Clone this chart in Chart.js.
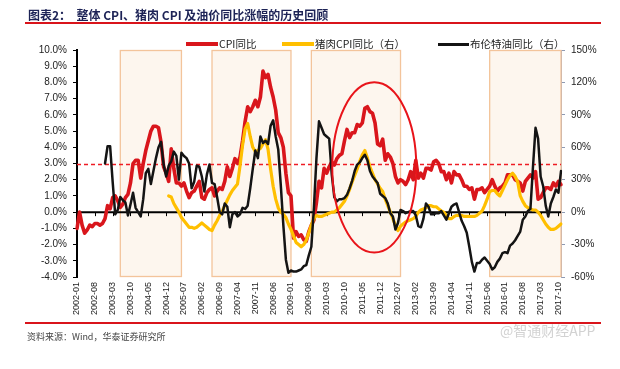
<!DOCTYPE html>
<html>
<head>
<meta charset="utf-8">
<script src="https://cdn.jsdelivr.net/npm/chart.js@4.4.1/dist/chart.umd.min.js"></script>
<style>
  body { margin: 0; background: #fff; }
  #wrap { position: relative; width: 620px; height: 369px; overflow: hidden; }
  #chart { position: absolute; left: 0; top: 0; }
  .title { position: absolute; left: 28px; top: 6px; font: bold 12px "Noto Sans CJK SC", sans-serif; color: #1d2356; white-space: nowrap; }
  .rule { position: absolute; left: 25px; width: 576px; background: #d9141b; }
  .source { position: absolute; left: 27px; top: 330px; font: 9px "Noto Sans CJK SC", sans-serif; color: #444; white-space: nowrap; }
  .mark { position: absolute; left: 500px; top: 320px; font: 14px "Noto Sans CJK SC", sans-serif; color: rgba(195,195,195,0.75); white-space: nowrap; }
  .lg-line { position: absolute; }
  .lg-text { position: absolute; top: 36px; font: 10.5px "Noto Sans CJK SC", sans-serif; color: #222; white-space: nowrap; line-height: 16px; }
</style>
</head>
<body>
<div id="wrap">
  <canvas id="chart" width="620" height="369"></canvas>
  <div class="title">图表2：&nbsp;&nbsp;整体 CPI、猪肉 CPI 及油价同比涨幅的历史回顾</div>
  <div class="rule" style="top:22px;height:2px;"></div>
  <div class="rule" style="top:322px;height:2px;"></div>
  <div class="source">资料来源：Wind，华泰证券研究所</div>
  <div class="mark">@智通财经APP</div>
  <div id="legend"></div>
</div>

<script>
//   <------------ Data ------------->

// months 2002-01 ... 2017-11
const months = [];
for (let yr = 2002; yr <= 2017; yr++) {
  for (let m = 1; m <= 12; m++) {
    if (yr === 2017 && m > 11) break;
    months.push(yr + '-' + (m < 10 ? '0' + m : m));
  }
}

// CPI YoY, % (left axis)
const cpi = [
  -1.0, 0.0, -0.8, -1.3, -1.1, -0.8, -0.9, -0.7, -0.7, -0.8, -0.7, -0.4,
  0.4, 0.2, 0.9, 1.0, 0.7, 0.3, 0.5, 0.9, 1.1, 1.8, 3.0, 3.2,
  3.2, 2.1, 3.0, 3.8, 4.4, 5.0, 5.3, 5.3, 5.2, 4.3, 2.8, 2.4,
  1.9, 3.9, 2.7, 1.8, 1.8, 1.6, 1.8, 1.3, 0.9, 1.2, 1.3, 1.6,
  1.9, 0.9, 0.8, 1.2, 1.4, 1.5, 1.0, 1.3, 1.5, 1.4, 1.9, 2.8,
  2.2, 2.7, 3.3, 3.0, 3.4, 4.4, 5.6, 6.5, 6.2, 6.5, 6.9, 6.5,
  7.1, 8.7, 8.3, 8.5, 7.7, 7.1, 6.3, 4.9, 4.6, 4.0, 2.4, 1.2,
  1.0, -1.6, -1.2, -1.5, -1.4, -1.7, -1.8, -1.2, -0.8, -0.5, 0.6, 1.9,
  1.5, 2.7, 2.4, 2.8, 3.1, 2.9, 3.3, 3.5, 3.6, 4.4, 5.1, 4.6,
  4.9, 4.9, 5.4, 5.3, 5.5, 6.4, 6.5, 6.2, 6.1, 5.5, 4.2, 4.1,
  4.5, 3.2, 3.6, 3.4, 3.0, 2.2, 1.8, 2.0, 1.9, 1.7, 2.0, 2.5,
  2.0, 3.2, 2.1, 2.4, 2.1, 2.7, 2.7, 2.6, 3.1, 3.2, 3.0, 2.5,
  2.5, 2.0, 2.4, 1.8, 2.5, 2.3, 2.3, 2.0, 1.6, 1.6, 1.4, 1.5,
  0.8, 1.4, 1.4, 1.5, 1.2, 1.4, 1.6, 2.0, 1.6, 1.3, 1.5, 1.6,
  1.8, 2.3, 2.3, 2.3, 2.0, 1.9, 1.8, 1.3, 1.9, 2.1, 2.3, 2.1,
  2.5, 0.8, 0.9, 1.2, 1.5, 1.5, 1.4, 1.8, 1.6, 1.9, 1.7
];

// pork CPI YoY, % (right axis), from 2005-01
const pork = Array(36).fill(null).concat([
  15, 14, 8, 4, 0, -5, -8, -11, -14, -14, -15, -14,
  -12, -10, -12, -14, -16, -17, -12, -8, -3, 1, 6, 11,
  16, 20, 23, 26, 43, 62, 77, 82, 70, 60, 56, 57,
  59, 63, 67, 58, 40, 24, 12, 4, 0, -2, -5, -11,
  -16, -22, -28, -30, -32, -30, -26, -19, -12, -6, -3, -4,
  -4, -3, -2, -1, 0, 0, 2, 4, 7, 10, 15, 21,
  28, 34, 40, 47, 53, 57, 50, 42, 36, 30, 26, 22,
  19, 12, 6, 0, -6, -12, -17, -13, -11, -9, -8, -7,
  -6, -4, 0, 2, 3, 4, 6, 6, 5, 5, 3, 1,
  0, -3, -6, -6, -4, -3, -3, -3, -4, -4, -4, -4,
  -4, -3, -1, 1, 6, 12, 19, 20, 20, 17, 15, 20,
  25, 30, 34, 36, 33, 28, 15, 10, 6, 4, 3, 2,
  2, 0, -3, -7, -11, -14, -16, -16, -15, -13, -11
]);

// Brent oil YoY, % (right axis), from 2002-12
const brent = Array(11).fill(null).concat([
  45,
  61, 61, 28, -2, 2, 14, 11, 9, -3, 7, 18, 4,
  0, -4, 12, 36, 40, 26, 38, 50, 60, 65, 44, 33,
  43, 47, 56, 52, 30, 55, 52, 50, 45, 22, 28, 43,
  42, 33, 19, 35, 44, 27, 26, 14, 0, -2, 8, 5,
  -14, -2, 0, -4, -2, 4, 3, 6, 22, 40, 57, 50,
  70, 64, 66, 63, 80, 85, 70, 58, 25, -12, -44, -56,
  -54, -55, -55, -54, -53, -50, -49, -40, -32, 4, 50, 84,
  78, 72, 70, 68, 35, 14, 10, 12, 12, 13, 16, 22,
  29, 38, 44, 46, 50, 53, 48, 38, 33, 30, 27, 17,
  15, 13, 8, -1, -4, -16, -10, 2, 1, -1, 0, 1,
  1, -3, -13, -14, -6, 8, 5, -2, -2, -1, -1, 1,
  -3, -7, -1, 5, 7, 8, 0, -8, -13, -19, -32, -46,
  -55, -47, -47, -44, -42, -45, -48, -53, -51, -46, -43, -38,
  -37, -38, -31, -29, -26, -22, -18, -7, -4, 1, 3, 42,
  78, 68, 33, 24, 6, -4, 8, 14, 21, 18, 38
]);

const seriesNames = ['CPI同比', '猪肉CPI同比（右）', '布伦特油同比（右）'];
const seriesColors = ['#d9161c', '#ffbf00', '#141414'];

const leftTicks = [-4, 10, 1];     // min, max, step (%)
const rightTicks = [-60, 150, 30];

// shaded periods
const periods = [
  ['2003-06', '2005-06'],
  ['2006-06', '2009-01'],
  ['2009-09', '2012-08'],
  ['2015-07', '2017-11']
];


//   <------------ Legend ------------->

const legendPos = [[186, 219], [282, 315], [438, 470]];
const legendBox = document.getElementById('legend');
seriesNames.forEach((name, i) => {
  const ln = document.createElement('div');
  ln.className = 'lg-line';
  ln.style.left = legendPos[i][0] + 'px';
  ln.style.width = (legendPos[i][1] - legendPos[i][0] - 1) + 'px';
  ln.style.top = (i === 2 ? 43 : 42) + 'px';
  ln.style.height = (i === 2 ? 3 : 4) + 'px';
  ln.style.background = seriesColors[i];
  legendBox.appendChild(ln);
  const tx = document.createElement('div');
  tx.className = 'lg-text';
  tx.style.left = legendPos[i][1] + 'px';
  tx.textContent = name;
  legendBox.appendChild(tx);
});


//   <------------ Overlay: periods, 3% line, zero axis, ellipse ------------->

const overlay = {
  id: 'overlay',
  beforeDatasetsDraw(chart) {
    const { ctx, chartArea: a, scales } = chart;
    const x = scales.x, y = scales.y;
    ctx.save();

    periods.forEach(p => {
      const x0 = x.getPixelForValue(months.indexOf(p[0]));
      const x1 = x.getPixelForValue(months.indexOf(p[1]));
      ctx.fillStyle = 'rgba(252,238,224,0.55)';
      ctx.fillRect(x0, a.top, x1 - x0, a.bottom - a.top);
      ctx.strokeStyle = '#f3c49b';
      ctx.lineWidth = 1.3;
      ctx.strokeRect(x0, a.top + 0.5, x1 - x0, a.bottom - a.top - 1);
    });

    const y3 = Math.round(y.getPixelForValue(3)) + 0.5;
    ctx.strokeStyle = '#ee1c24';
    ctx.lineWidth = 1.4;
    ctx.setLineDash([4, 3]);
    ctx.beginPath();
    ctx.moveTo(a.left, y3);
    ctx.lineTo(a.right, y3);
    ctx.stroke();

    const y0 = y.getPixelForValue(0);
    ctx.setLineDash([]);
    ctx.strokeStyle = '#000';
    ctx.lineWidth = 2;
    ctx.beginPath();
    ctx.moveTo(a.left, y0);
    ctx.lineTo(a.right, y0);
    ctx.stroke();
    ctx.lineWidth = 1;
    for (let i = 0; i < months.length; i += 7) {
      const px = Math.round(x.getPixelForValue(i)) + 0.5;
      ctx.beginPath();
      ctx.moveTo(px, y0);
      ctx.lineTo(px, y0 + 4);
      ctx.stroke();
    }
    ctx.restore();
  },
  afterDatasetsDraw(chart) {
    const { ctx, scales } = chart;
    const x = scales.x, y = scales.y;
    const cx = x.getPixelForValue(116.7);
    const cy = y.getPixelForValue(2.76);
    const rx = x.getPixelForValue(116.7 + 16.5) - cx;
    const ry = cy - y.getPixelForValue(2.76 + 5.25);
    ctx.save();
    ctx.strokeStyle = '#e8141a';
    ctx.lineWidth = 2;
    ctx.beginPath();
    ctx.ellipse(cx, cy, rx, ry, 0, 0, Math.PI * 2);
    ctx.stroke();
    ctx.restore();
  }
};


//   <------------ Chart ------------->

const tickFont = { family: '"Liberation Sans", Arial, sans-serif', size: 10 };

const config = {
  type: 'line',
  data: {
    labels: months,
    datasets: [
      { label: seriesNames[0], data: cpi, yAxisID: 'y', borderColor: seriesColors[0], borderWidth: 3.6, order: 3 },
      { label: seriesNames[1], data: pork, yAxisID: 'y1', borderColor: seriesColors[1], borderWidth: 3.2, order: 2 },
      { label: seriesNames[2], data: brent, yAxisID: 'y1', borderColor: seriesColors[2], borderWidth: 2.5, order: 1 }
    ]
  },
  options: {
    responsive: false,
    animation: false,
    devicePixelRatio: 1,
    layout: { padding: { left: 20, right: 19, top: 50, bottom: 42 } },
    elements: {
      point: { radius: 0 },
      line: { tension: 0, borderJoinStyle: 'round', borderCapStyle: 'round' }
    },
    plugins: { legend: { display: false }, tooltip: { enabled: false } },
    scales: {
      x: {
        grid: { display: false, drawTicks: false },
        border: { display: false },
        ticks: {
          autoSkip: false,
          maxRotation: 90,
          minRotation: 90,
          padding: 5,
          color: '#222',
          font: { family: '"Liberation Sans", Arial, sans-serif', size: 9 },
          callback: (v, i) => (i % 7 === 0 ? months[i] : '')
        },
        afterFit: s => { s.height = 50; }
      },
      y: {
        position: 'left',
        min: leftTicks[0],
        max: leftTicks[1],
        ticks: { stepSize: leftTicks[2], padding: 6, color: '#222', font: tickFont, callback: v => v.toFixed(1) + '%' },
        grid: { drawOnChartArea: false, color: '#000', tickLength: 4 },
        border: { color: '#000', width: 2 },
        afterFit: s => { s.width = 57; }
      },
      y1: {
        position: 'right',
        min: rightTicks[0],
        max: rightTicks[1],
        ticks: { stepSize: rightTicks[2], padding: 6, color: '#222', font: tickFont, callback: v => v + '%' },
        grid: { drawOnChartArea: false, color: '#8e9ab3', tickLength: 4 },
        border: { color: '#9aa6bd', width: 1 },
        afterFit: s => { s.width = 40; }
      }
    }
  },
  plugins: [overlay]
};

var ctx = document.getElementById('chart').getContext('2d');
var cpiChart = new Chart(ctx, config);
</script>
</body>
</html>
